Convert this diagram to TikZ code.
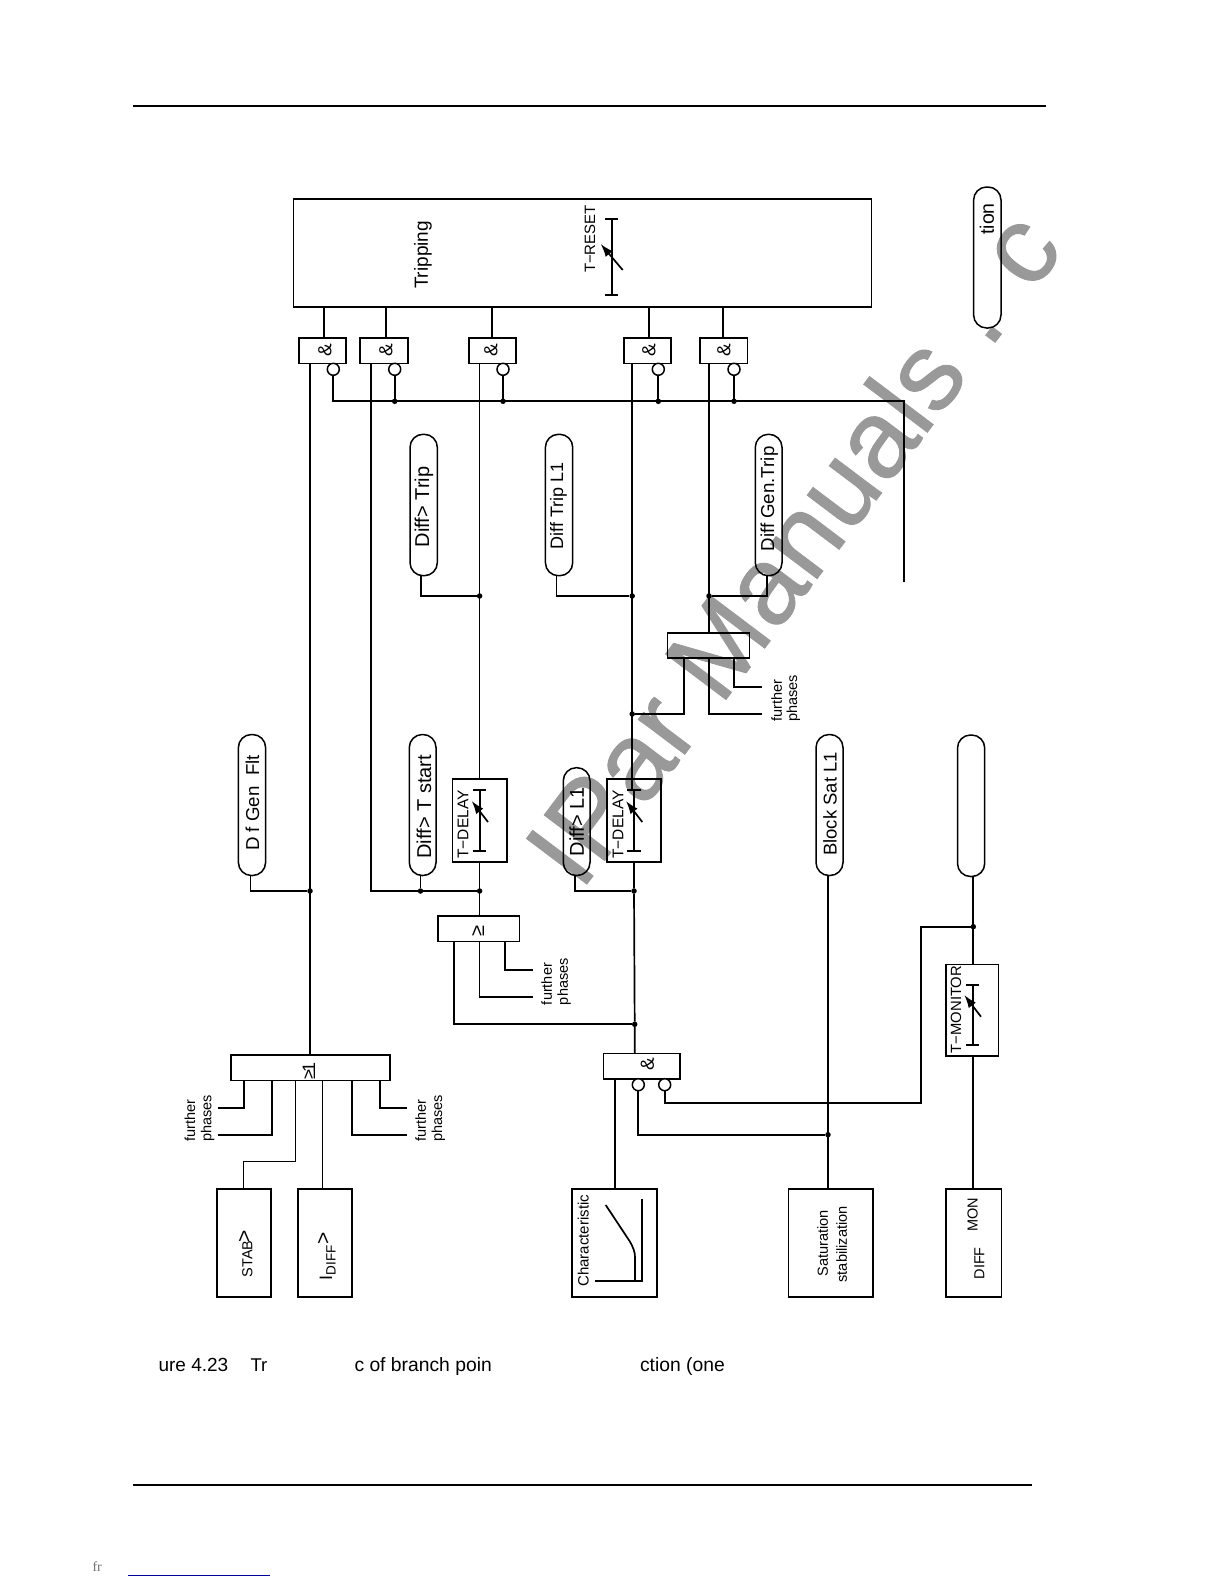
\documentclass[tikz,border=0pt]{standalone}
\usepackage{fontspec}
\setmainfont{Liberation Sans}
\newfontfamily\wmfont[FakeBold=0.8]{Liberation Sans}
\newfontfamily\footfont{Liberation Serif}
\usetikzlibrary{arrows.meta}
\tikzset{
  blockbox/.style={draw,line width=1.6pt,inner sep=0pt,outer sep=0pt},
  pillbox/.style={blockbox,line width=1.5pt,rounded corners=13pt},
  conn/.style={line width=1.7pt,line join=miter},
  thinconn/.style={line width=1.2pt},
  invcirc/.style={circle,draw,line width=1.5pt,fill=white,inner sep=0pt,outer sep=0pt,minimum size=12pt},
  jdot/.style={circle,fill=black,inner sep=0pt,outer sep=0pt,minimum size=5.5pt},
  rlab/.style={rotate=90,inner sep=0pt,outer sep=0pt,anchor=center},
  rstart/.style={rotate=90,inner sep=0pt,outer sep=0pt,anchor=west},
  htext/.style={inner sep=0pt,outer sep=0pt,anchor=base west},
}
\newcommand{\fsz}[1]{\fontsize{#1}{#1}\selectfont}
% \blk[style]{name}{x1}{y1}{x2}{y2}
\newcommand{\blk}[6][blockbox]{%
  \pgfmathsetmacro\bcx{(#3+#5)/2}\pgfmathsetmacro\bcy{(#4+#6)/2}%
  \pgfmathsetmacro\bw{#5-#3}\pgfmathsetmacro\bh{#6-#4}%
  \node[#1,minimum width=\bw pt,minimum height=\bh pt] (#2) at (\bcx,\bcy) {};}
% \timer{x}{ytop}{ybot}{tail dx}{tail dy}{head dx}{head dy}
\newcommand{\timer}[7]{%
  \draw[conn] (#1,#2) -- (#1,#3);
  \draw[conn] (#1-6.7,#2) -- (#1+6.7,#2);
  \draw[conn] (#1-6.7,#3) -- (#1+6.7,#3);
  \draw[line width=1.7pt,-{Latex[length=13pt,width=9pt]}] (#1+#4,#2+#5) -- (#1+#6,#2+#7);}
\begin{document}
\begin{tikzpicture}[x=1pt,y=-1pt]
\useasboundingbox (0,0) rectangle (1224,1584);
\fill[white] (0,0) rectangle (1224,1584);
% watermark
\node[inner sep=0pt,outer sep=0pt,anchor=base west,rotate=53,text=black!40] (wm) at (580.8,892.2)
  {\wmfont\fontsize{110}{110}\selectfont IPar Manuals . c};
% page rules
\coordinate (ra) at (133,106); \coordinate (rb) at (1046,106);
\coordinate (rc) at (133,1485); \coordinate (rd) at (1032,1485);
\coordinate (re) at (128,1575); \coordinate (rf) at (270,1575);
\draw[line width=1.7pt] (ra) -- (rb);
\draw[line width=1.7pt] (rc) -- (rd);
\draw[line width=0.9pt,color=blue!60!black] (re) -- (rf);
% caption
\node[htext] (cap1) at (158.6,1371) {\fsz{19}ure 4.23};
\node[htext] (cap2) at (250.5,1371) {\fsz{18.5}Tr};
\node[htext] (cap3) at (354.5,1371) {\fsz{19.3}c of branch poin};
\node[htext] (cap4) at (640,1371) {\fsz{19.3}ction (one};
\node[htext,text=black!55] (foot) at (92.5,1571) {\footfont\fsz{14}fr};
% blocks
\blk{trip}{293.5}{199}{871.6}{307}
\blk{a1}{298.7}{338}{346}{363.3}
\blk{a2}{360}{338}{407.7}{363.3}
\blk{a3}{468.7}{338}{516}{363.3}
\blk{a4}{623.7}{338}{671}{363.3}
\blk{a5}{699.7}{338}{747.3}{363.3}
\blk{tdone}{452.3}{779}{506.7}{862}
\blk{tdtwo}{606.7}{779}{661}{862}
\blk{getwo}{437.7}{916}{519.3}{941.3}
\blk{gethree}{667.3}{632.7}{749.3}{657.7}
\blk{gebig}{230.7}{1055}{390}{1080.3}
\blk{aand}{603.3}{1053.3}{680}{1078.7}
\blk{tmon}{945.7}{964.3}{998.3}{1056}
\blk{stab}{216.7}{1188.7}{271}{1297}
\blk{idiff}{297.7}{1188.7}{352}{1297}
\blk{charb}{572}{1188.7}{657}{1297}
\blk{satb}{788.3}{1188.7}{873}{1297}
\blk{diffb}{945.7}{1188.7}{1001.3}{1297}
% pills
\blk[pillbox]{ption}{973.6}{187}{1001}{328}
\blk[pillbox]{pdtrip}{410}{434.3}{437.3}{575.7}
\blk[pillbox]{pdl}{545.4}{434.3}{572.7}{575.7}
\blk[pillbox]{pgtrip}{755.3}{434.3}{782}{575.7}
\blk[pillbox]{pgfl}{238.4}{734.5}{265.6}{875.5}
\blk[pillbox]{ptst}{409.3}{734.5}{436}{875.5}
\blk[pillbox]{pltwo}{563.3}{767.7}{590}{875.5}
\blk[pillbox]{pbs}{816}{734.5}{843}{875.5}
\blk[pillbox]{pblank}{957.5}{735}{984.7}{876.5}
% inverters
\node[invcirc] (c1) at (333.3,369.3) {};
\node[invcirc] (c2) at (394.7,369.3) {};
\node[invcirc] (c3) at (503,369.3) {};
\node[invcirc] (c4) at (658.3,369.3) {};
\node[invcirc] (c5) at (734,369.3) {};
\node[invcirc] (c6) at (638.3,1084.7) {};
\node[invcirc] (c7) at (664.7,1084.7) {};
% junctions
\node[jdot] (jb2) at (394.7,401.3) {};
\node[jdot] (jb3) at (503,401.3) {};
\node[jdot] (jb4) at (658.3,401.3) {};
\node[jdot] (jb5) at (734,401.3) {};
\coordinate (bc) at (904,401.3);
\coordinate (be) at (904,582.3);
\coordinate (bs) at (333.3,401.3);
\node[jdot] (j1) at (310,891) {};
\node[jdot] (j2) at (479.6,891) {};
\node[jdot] (j3) at (420.5,891) {};
\node[jdot] (j4) at (479.6,596) {};
\node[jdot] (j5) at (632.2,596) {};
\node[jdot] (j6) at (632.2,714) {};
\node[jdot] (j7) at (634,891) {};
\node[jdot] (j8) at (634.7,1024.3) {};
\node[jdot] (j9) at (709,596) {};
\node[jdot] (j10) at (828,1134.7) {};
\node[jdot] (j11) at (973.3,926.7) {};
% free ends
\coordinate (fa) at (532.7,997.3); \coordinate (fb) at (532.7,970);
\coordinate (fc) at (761.7,714); \coordinate (fd) at (761.7,686.7);
\coordinate (fe) at (218.3,1107.7); \coordinate (ff) at (218.3,1134.7);
\coordinate (fg) at (406.7,1107.7); \coordinate (fh) at (406.7,1134.7);
% connectors
\foreach \nm/\xx in {a1/324,a2/385.7,a3/492,a4/649,a5/723.3}
  \draw[conn] (trip.south -| \xx,0) -- (\nm.north -| \xx,0);
\draw[conn] (a1.south -| 310,0) -- (gebig.north -| 310,0);
\draw[conn] (a2.south -| 371,0) |- (j2);
\draw[conn] (a3.south -| 479.6,0) -- (tdone.north -| 479.6,0);
\draw[conn] (tdone.south -| 479.6,0) -- (getwo.north -| 479.6,0);
\draw[conn] (a4.south -| 632.2,0) -- (tdtwo.north -| 632.2,0);
\draw[conn] (tdtwo.south -| 634,0) -- (j7) -- (j8) -- (aand.north -| j8);
\draw[conn] (a5.south -| 709,0) -- (gethree.north -| 709,0);
\draw[conn] (c1.south) -- (bs) -- (bc) -- (be);
\foreach \cc/\jj in {c2/jb2,c3/jb3,c4/jb4,c5/jb5} \draw[conn] (\cc.south) -- (\jj);
\draw[conn] (pgfl.south -| 250.5,0) |- (j1);
\draw[conn] (ptst.south -| j3) -- (j3);
\draw[conn] (pltwo.south -| 575.3,0) |- (j7);
\draw[conn] (pdtrip.south -| 421,0) |- (j4);
\draw[thinconn] (pdl.south -| 556.5,0) |- (j5);
\draw[conn] (pgtrip.south -| 767,0) |- (j9);
% OR fan-ins
\draw[conn] (getwo.south -| 454.3,0) |- (j8);
\draw[conn] (getwo.south -| 479.6,0) |- (fa);
\draw[conn] (getwo.south -| 505,0) |- (fb);
\draw[conn] (gethree.south -| 683.7,0) |- (j6);
\draw[conn] (gethree.south -| 709,0) |- (fc);
\draw[conn] (gethree.south -| 734,0) |- (fd);
\draw[conn] (gebig.south -| 244,0) |- (fe);
\draw[conn] (gebig.south -| 272,0) |- (ff);
\draw[conn] (gebig.south -| 352.3,0) |- (fh);
\draw[conn] (gebig.south -| 379.7,0) |- (fg);
\draw[thinconn] (gebig.south -| 295.7,0) -- (295.7,1161.7) -- (243.7,1161.7) -- (stab.north -| 243.7,0);
\draw[thinconn] (gebig.south -| 322.7,0) -- (idiff.north -| 322.7,0);
% lower AND
\draw[conn] (aand.south -| 615,0) -- (charb.north -| 615,0);
\draw[conn] (c6.south) |- (j10);
\draw[conn] (c7.south) -- (664.7,1103.3) -- (921.3,1103.3) -- (921.3,926.7) -- (j11);
\draw[conn] (pbs.south -| j10) -- (satb.north -| j10);
\draw[conn] (pblank.south -| j11) -- (tmon.north -| j11);
\draw[conn] (tmon.south -| j11) -- (diffb.north -| j11);
% timers
\timer{611.7}{219}{294.7}{11}{51}{-11}{25}
\timer{479.7}{790}{850.7}{8.3}{32}{-8}{11}
\draw[conn] (tdtwo.north -| 632.2,0) -- (632.2,790);
\timer{634}{790}{850.7}{8.3}{32}{-8}{11}
\timer{972.7}{985}{1044.7}{8.3}{31.7}{-8.4}{10}
% characteristic curve
\coordinate (ka) at (605.7,1205); \coordinate (kb) at (630,1241.7); \coordinate (kc) at (635,1257); \coordinate (kd) at (635,1280.7);
\draw[line width=1.7pt,line join=round] (ka) -- (kb) .. controls (633,1247) and (635,1252) .. (kc) -- (kd);
\draw[conn] (642,1199.3) -- (642,1280.7) -- (595,1280.7);
% labels
\node[rlab] (tripl) at (423,255) {\fsz{19}Tripping};
\node[rlab] (tresetl) at (590,239) {\fsz{15}T−RESET};
\foreach \nm/\xx in {a1/325,a2/386,a3/491,a4/649,a5/724}
  \node[rlab] (amp\nm) at (\xx,350) {\fsz{19}\&};
\node[rlab] (ampb) at (647.3,1064.5) {\fsz{19}\&};
\node[rlab] (getwol) at (478,931) {\fsz{20}≥};
\node[rlab] (gebigl) at (309,1071) {\fsz{18}≥\kern-3pt 1};
\node[rlab] (lption) at (986.8,219) {\fsz{19.5}tion};
\node[rlab] (ldtrip) at (424,507) {\fsz{20}Diff> Trip};
\node[rlab] (ldl) at (558.5,506) {\fsz{18}Diff Trip L1};
\node[rlab] (lgtrip) at (769.3,499) {\fsz{18.7}Diff Gen.Trip};
\node[rlab] (lgfl) at (252.5,803) {\fsz{18.7}D f Gen\ \ Flt};
\node[rlab] (ltst) at (424,806.7) {\fsz{20}Diff> T start};
\node[rlab] (lltwo) at (576.7,821.7) {\fsz{20}Diff>\ L1};
\node[rlab] (lbs) at (830,804) {\fsz{18.5}Block Sat L1};
\node[rlab] (ldone) at (463,824.5) {\fsz{15.5}T−DELAY};
\node[rlab] (ldtwo) at (618,824.5) {\fsz{15.5}T−DELAY};
\node[rlab] (ltmon) at (956,1009.5) {\fsz{14.8}T−MONITOR};
\node[rstart] (f1) at (546.7,1005) {\fsz{14.5}further};
\node[rstart] (p1) at (564,1005) {\fsz{14.5}phases};
\node[rstart] (f2) at (776.7,721.7) {\fsz{14.5}further};
\node[rstart] (p2) at (793.3,721.7) {\fsz{14.5}phases};
\node[rstart] (f3) at (190,1141.7) {\fsz{14.5}further};
\node[rstart] (p3) at (207.7,1141.7) {\fsz{14.5}phases};
\node[rstart] (f4) at (420.7,1141.7) {\fsz{14.5}further};
\node[rstart] (p4) at (438.3,1141.7) {\fsz{14.5}phases};
\node[rlab] (lstab) at (247.3,1259) {\fsz{14.5}STAB};
\node[rlab] (lstabg) at (245,1236.5) {\fsz{21}>};
\node[rlab] (lidi) at (326,1278) {\fsz{18}I};
\node[rlab] (lidd) at (331,1260) {\fsz{13.5}DIFF};
\node[rlab] (lidg) at (324,1238) {\fsz{21}>};
\node[rlab] (lchar) at (583.3,1240.8) {\fsz{15}Characteristic};
\node[rlab] (lsat) at (822.7,1243.3) {\fsz{14.6}Saturation};
\node[rlab] (lsta) at (841.7,1244.3) {\fsz{14.6}stabilization};
\node[rlab] (lmon) at (972.7,1215) {\fsz{14.5}MON};
\node[rlab] (ldiff) at (979.3,1263.3) {\fsz{14.5}DIFF};
\end{tikzpicture}
\end{document}
